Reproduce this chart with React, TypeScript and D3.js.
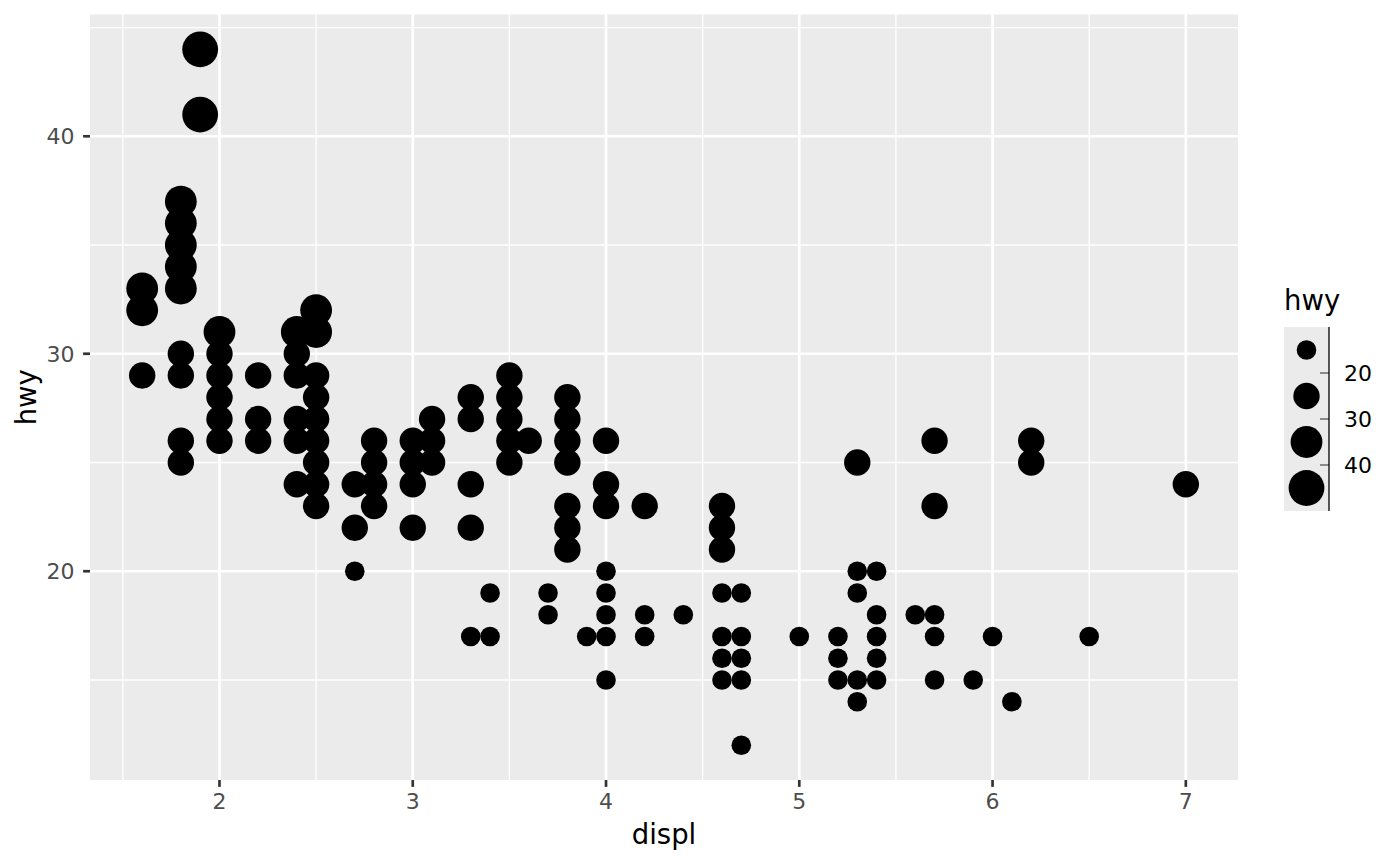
import * as d3 from 'd3'

// displ values and the hwy values found at each displ (mpg data)
const displGroups = [
  1.6, 1.8, 1.9, 2.0, 2.2, 2.4, 2.5, 2.7, 2.8, 3.0, 3.1, 3.3, 3.4, 3.5, 3.6, 3.7, 3.8, 3.9, 4.0, 4.2, 4.4,
  4.6, 4.7, 5.0, 5.2, 5.3, 5.4, 5.6, 5.7, 5.9, 6.0, 6.1, 6.2, 6.5, 7.0,
]
const hwyGroups = [
  [33, 32, 29],
  [37, 36, 35, 34, 33, 30, 29, 26, 25],
  [44, 41],
  [31, 30, 29, 28, 27, 26],
  [29, 27, 26],
  [31, 30, 29, 27, 26, 24],
  [32, 31, 29, 28, 27, 26, 25, 24, 23],
  [24, 22, 20],
  [26, 25, 24, 23],
  [26, 25, 24, 22],
  [27, 26, 25],
  [28, 27, 24, 22, 17],
  [19, 17],
  [29, 28, 27, 26, 25],
  [26],
  [19, 18],
  [28, 27, 26, 25, 23, 22, 21],
  [17],
  [26, 24, 23, 20, 19, 18, 17, 15],
  [23, 18, 17],
  [18],
  [23, 22, 21, 19, 17, 16, 15],
  [19, 17, 16, 15, 12],
  [17],
  [17, 16, 15],
  [25, 20, 19, 15, 14],
  [20, 18, 17, 16, 15],
  [18],
  [26, 23, 18, 17, 15],
  [15],
  [17],
  [14],
  [26, 25],
  [17],
  [24],
]

const xTicks = [2, 3, 4, 5, 6, 7]
const xMinor = [1.5, 2.5, 3.5, 4.5, 5.5, 6.5]
const yTicks = [20, 30, 40]
const yMinor = [15, 25, 35, 45]
const sizeBreaks = [20, 30, 40]
const sizeRadii = [9.8, 13.2, 15.9, 17.9]

const W = 1400
const H = 866
const margin = { left: 90, right: 162, top: 14.5, bottom: 86 }
const font = 'DejaVu Sans, sans-serif'

export default function App() {
  const points = displGroups.flatMap((d, i) => hwyGroups[i].map((h) => ({ displ: d, hwy: h })))

  const dExt = d3.extent(points, (p) => p.displ) as [number, number]
  const hExt = d3.extent(points, (p) => p.hwy) as [number, number]
  const dPad = (dExt[1] - dExt[0]) * 0.05
  const hPad = (hExt[1] - hExt[0]) * 0.05

  const x = d3
    .scaleLinear()
    .domain([dExt[0] - dPad, dExt[1] + dPad])
    .range([margin.left, W - margin.right])
  const y = d3
    .scaleLinear()
    .domain([hExt[0] - hPad, hExt[1] + hPad])
    .range([H - margin.bottom, margin.top])

  // binned size scale, right-closed bins: (..,20], (20,30], (30,40], (40,..)
  const size = d3.scaleOrdinal<number, number>().domain([0, 1, 2, 3]).range(sizeRadii)
  const radius = (v: number) => size(d3.bisectLeft(sizeBreaks, v))

  const [x0, x1] = x.range()
  const [y0, y1] = y.range()

  // legend
  const legendX = 1284
  const keyW = 45
  const keys = d3.range(sizeBreaks.length + 1)
  const keyY = d3.scaleBand<number>().domain(keys).range([327, 511])

  return (
    <svg
      width={W}
      height={H}
      style={{ position: 'absolute', left: 0, top: 0, background: '#fff' }}
      fontFamily={font}
    >
      <rect x={x0} y={y1} width={x1 - x0} height={y0 - y1} fill="#EBEBEB" />
      <g stroke="#fff">
        {xMinor.map((t) => (
          <line key={'xm' + t} x1={x(t)} x2={x(t)} y1={y0} y2={y1} strokeWidth={1.33} />
        ))}
        {yMinor.map((t) => (
          <line key={'ym' + t} x1={x0} x2={x1} y1={y(t)} y2={y(t)} strokeWidth={1.33} />
        ))}
        {xTicks.map((t) => (
          <line key={'x' + t} x1={x(t)} x2={x(t)} y1={y0} y2={y1} strokeWidth={2.67} />
        ))}
        {yTicks.map((t) => (
          <line key={'y' + t} x1={x0} x2={x1} y1={y(t)} y2={y(t)} strokeWidth={2.67} />
        ))}
      </g>

      <g fill="#000">
        {points.map((p, i) => (
          <circle key={i} cx={x(p.displ)} cy={y(p.hwy)} r={radius(p.hwy)} />
        ))}
      </g>

      {/* x axis */}
      <g>
        {xTicks.map((t) => (
          <g key={t} transform={`translate(${x(t)},0)`}>
            <line y1={y0} y2={y0 + 6.9} stroke="#333" strokeWidth={2.67} />
            <text y={y0 + 28.5} textAnchor="middle" fontSize={22} fill="#4D4D4D">
              {t}
            </text>
          </g>
        ))}
        <text x={(x0 + x1) / 2} y={844} textAnchor="middle" fontSize={27.5} fill="#000">
          displ
        </text>
      </g>

      {/* y axis */}
      <g>
        {yTicks.map((t) => (
          <g key={t} transform={`translate(0,${y(t)})`}>
            <line x1={x0 - 6.9} x2={x0} stroke="#333" strokeWidth={2.67} />
            <text x={x0 - 15.5} y={8} textAnchor="end" fontSize={22} fill="#4D4D4D">
              {t}
            </text>
          </g>
        ))}
        <text
          transform={`translate(36,${(y0 + y1) / 2}) rotate(-90)`}
          textAnchor="middle"
          fontSize={27.5}
          fill="#000"
        >
          hwy
        </text>
      </g>

      {/* binned size legend */}
      <g>
        <text x={legendX} y={310} fontSize={27.5} fill="#000">
          hwy
        </text>
        {keys.map((k) => (
          <g key={k}>
            <rect x={legendX} y={keyY(k)} width={keyW} height={keyY.bandwidth()} fill="#EBEBEB" />
            <circle cx={legendX + keyW / 2} cy={keyY(k)! + keyY.bandwidth() / 2} r={size(k)} fill="#000" />
          </g>
        ))}
        {sizeBreaks.map((b, i) => {
          const ty = keyY(i + 1)!
          return (
            <g key={b}>
              <line x1={legendX + keyW - 9} x2={legendX + keyW} y1={ty} y2={ty} stroke="#555" strokeWidth={1.3} />
              <text x={legendX + keyW + 15} y={ty + 8} fontSize={22} fill="#000">
                {b}
              </text>
            </g>
          )
        })}
        <line
          x1={legendX + keyW}
          x2={legendX + keyW}
          y1={keyY.range()[0]}
          y2={keyY.range()[1]}
          stroke="#000"
          strokeWidth={1.3}
        />
      </g>
    </svg>
  )
}
